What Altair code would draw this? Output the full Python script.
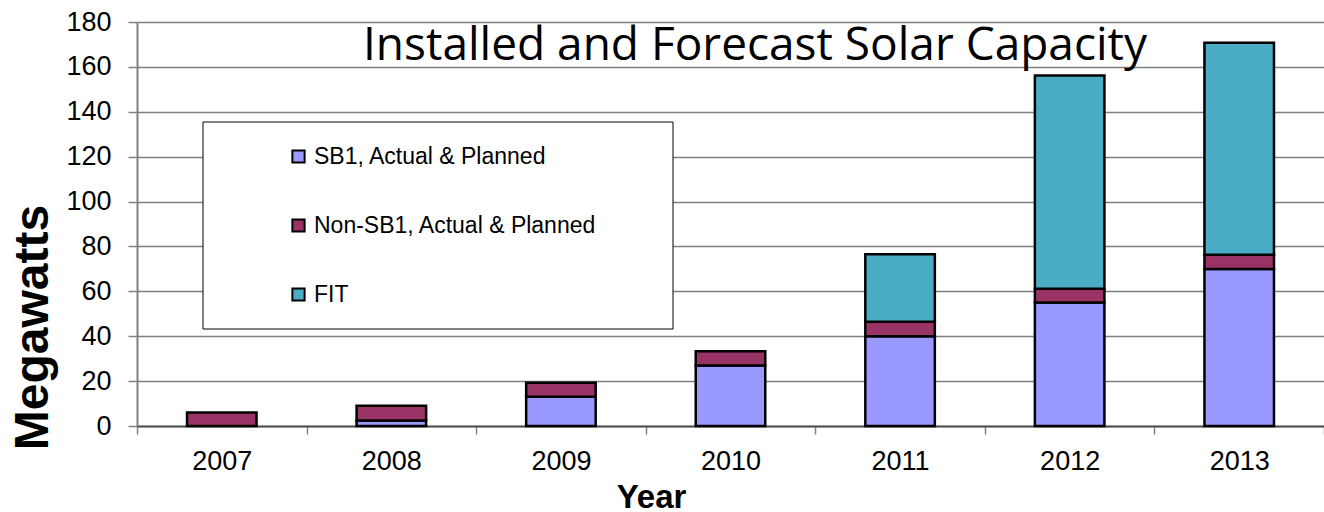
import altair as alt
import pandas as pd

years = ["2007", "2008", "2009", "2010", "2011", "2012", "2013"]
series = ["SB1, Actual & Planned", "Non-SB1, Actual & Planned", "FIT"]
sb1 = [0, 2.5, 13, 27, 40, 55, 70]
non_sb1 = [6, 6.5, 6.3, 6.3, 6.5, 6.2, 6.3]
fit = [0, 0, 0, 0, 30, 95, 94.5]
colors = ["#9999FF", "#993366", "#4BACC6"]
y_ticks = [0, 20, 40, 60, 80, 100, 120, 140, 160, 180]
title_text = ["Installed and Forecast Solar Capacity"]

rows = []
for i, y in enumerate(years):
    for k, (name, vals) in enumerate(zip(series, [sb1, non_sb1, fit])):
        if vals[i] > 0:
            rows.append({"Year": y, "Series": name, "MW": vals[i], "order": k})
df = pd.DataFrame(rows)

W, H = 1187, 404

box = alt.Chart(pd.DataFrame({"a": [0]})).mark_rect(
    fill="white", stroke="black", strokeWidth=1
).encode(
    x=alt.value(66), x2=alt.value(536), y=alt.value(100), y2=alt.value(307)
)

title = alt.Chart(pd.DataFrame({"t": title_text})).mark_text(
    font="Open Sans", fontSize=46, color="black", align="center",
    baseline="alphabetic"
).encode(x=alt.value(618), y=alt.value(38), text="t:N")

bars = alt.Chart(df).mark_bar(
    width={"band": 0.41}, stroke="black", strokeWidth=2.5
).encode(
    x=alt.X("Year:N", sort=years,
            scale=alt.Scale(paddingInner=0, paddingOuter=0),
            axis=alt.Axis(title="Year", labelAngle=0, tickBand="extent",
                          labelFont="Liberation Sans", labelFontSize=27,
                          labelColor="black", labelPadding=14,
                          tickSize=8, tickColor="#808080", tickWidth=1.5,
                          domainColor="#505050", domainWidth=2,
                          titleFont="Liberation Sans", titleFontSize=33,
                          titleFontWeight="bold", titleColor="black",
                          titleX=514, titleY=81, titleAlign="center",
                          titleBaseline="alphabetic", grid=False)),
    y=alt.Y("MW:Q", stack="zero",
            scale=alt.Scale(domain=[0, 180], nice=False),
            axis=alt.Axis(title="Megawatts", values=y_ticks,
                          labelFont="Liberation Sans", labelFontSize=27,
                          labelColor="black", labelPadding=17,
                          tickSize=9, tickColor="#808080", tickWidth=1.5,
                          domainColor="#808080", domainWidth=2,
                          gridColor="#808080", gridWidth=1.5,
                          titleFont="Liberation Sans", titleFontSize=48,
                          titleFontWeight="bold", titleColor="black",
                          titleX=-90, titleY=305, titleAngle=270,
                          titleAlign="center", titleBaseline="alphabetic")),
    color=alt.Color("Series:N", sort=series,
                    scale=alt.Scale(domain=series, range=colors),
                    legend=alt.Legend(title=None, orient="none",
                                      legendX=150, legendY=123,
                                      direction="vertical",
                                      symbolType="square", symbolSize=150,
                                      symbolStrokeColor="black",
                                      symbolStrokeWidth=2, symbolOpacity=1,
                                      labelFont="Liberation Sans",
                                      labelFontSize=23, labelColor="black",
                                      labelOffset=4, rowPadding=45,
                                      labelLimit=500)),
    order=alt.Order("order:Q"),
)

chart = alt.layer(box, bars, title).properties(
    width=W, height=H,
    autosize=alt.AutoSizeParams(type="none"),
    padding={"left": 137, "top": 22, "right": 0, "bottom": 86},
).configure_view(stroke=None).configure(background="white")

chart.save("out.html", embed_options={"renderer": "svg", "actions": False})
